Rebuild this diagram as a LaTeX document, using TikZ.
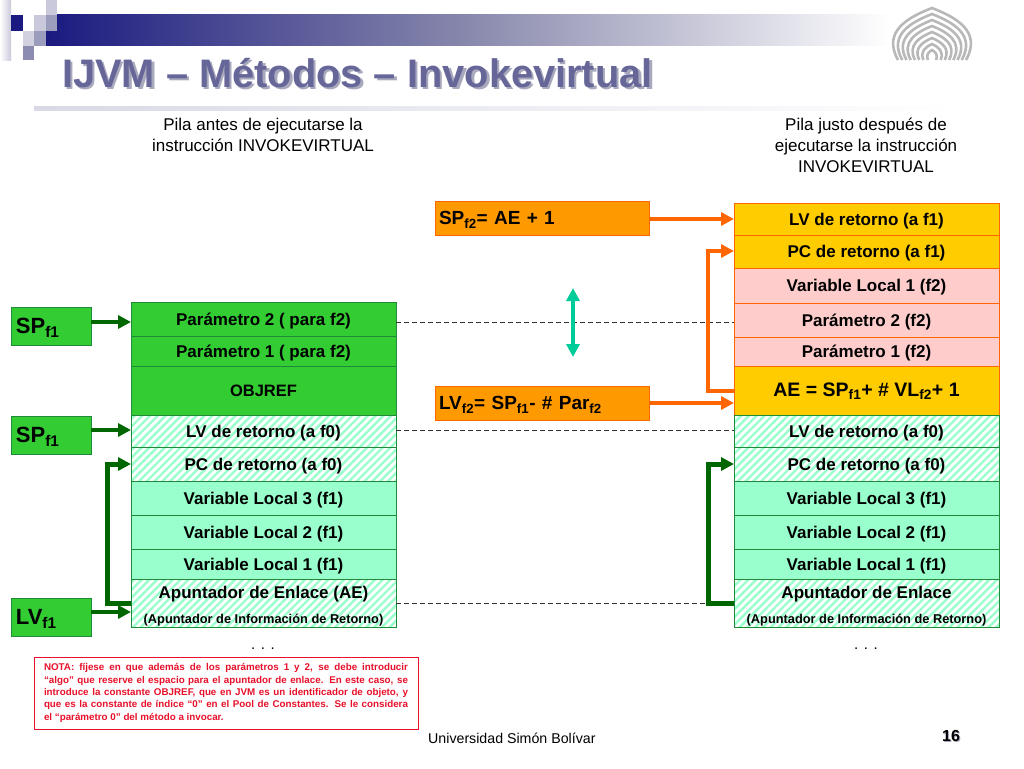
\documentclass[tikz,border=0pt]{standalone}
\usepackage{fontspec}
\setmainfont{Liberation Sans}
\usetikzlibrary{arrows.meta, positioning, patterns.meta}

\definecolor{navyb}{HTML}{1A1A80}
\definecolor{titleb}{HTML}{666699}
\definecolor{titlesh}{HTML}{A9A9BE}
\definecolor{greenb}{HTML}{33CC33}
\definecolor{greena}{HTML}{006600}
\definecolor{greenl}{HTML}{1F8A3A}
\definecolor{mintb}{HTML}{99FFCC}
\definecolor{orangeb}{HTML}{FF9900}
\definecolor{orangea}{HTML}{FF6600}
\definecolor{yellowb}{HTML}{FFCC00}
\definecolor{pinkb}{HTML}{FFCCCC}
\definecolor{tealb}{HTML}{00CC99}
\definecolor{redn}{HTML}{E8102A}

\tikzset{
	cell/.style={draw, minimum width=265pt, minimum height=#1, inner sep=0pt, outer sep=0pt, line width=0.9pt, align=center, text height=12pt, text depth=0pt, font=\fontsize{17}{19}\selectfont\bfseries},
	ggreen/.style={cell=#1, fill=greenb, draw=greenl},
	gmint/.style={cell=#1, fill=mintb, draw=greenl},
	ghatch/.style={cell=#1, draw=greenl, preaction={fill=white}, pattern={Lines[angle=45, distance=5.5pt, line width=2.4pt]}, pattern color=mintb},
	twoline/.style={text height=40pt},
	gyellow/.style={cell=#1, fill=yellowb, draw=orangea},
	gpink/.style={cell=#1, fill=pinkb, draw=orangea},
	regbox/.style={draw=greenl, fill=greenb, line width=0.9pt, minimum width=80pt, minimum height=38pt, inner sep=0pt, outer sep=0pt, text width=70pt, text height=14pt, text depth=0pt, font=\fontsize{22}{24}\selectfont\bfseries},
	calcbox/.style={draw=orangea, fill=orangeb, line width=0.8pt, minimum width=214pt, minimum height=34pt, inner sep=4pt, outer sep=0pt, text width=206pt, text height=13pt, text depth=0pt, font=\fontsize{19}{20}\selectfont\bfseries},
	garrow/.style={draw=greena, line width=4pt, -{Triangle[length=13pt, width=13pt]}},
	oarrow/.style={draw=orangea, line width=4pt, -{Triangle[length=13pt, width=13pt]}},
	level/.style={dash pattern=on 5pt off 3pt, draw=black!80, line width=0.9pt},
	caption/.style={align=center, inner sep=0pt, font=\fontsize{17}{21}\selectfont},
}
\newcommand{\lowtxt}[1]{\textsubscript{#1}}
\newcommand{\shadowed}[2]{\makebox[0pt][l]{\hspace{#1}\raisebox{-#1}{\textcolor{titlesh}{#2}}}#2}

\begin{document}
\begin{tikzpicture}[x=1pt, y=-1pt]
	\useasboundingbox (0,0) rectangle (1024,768);

	% header
	\shade[left color=navyb, right color=white, middle color=black!5!titleb!75!white] (46,15) rectangle (890,46);
	\shade[left color=white, right color=titleb!35!white] (0,0) rectangle (11,60);
	\fill[navyb] (11,15) rectangle (23,31);
	\fill[titleb!35!white] (34,15) rectangle (46,31);
	\fill[titleb!65!white] (46,15) rectangle (57,31);
	\fill[titleb!35!white] (46,0) rectangle (57,15);
	\fill[titleb!65!white] (34,31) rectangle (46,46);
	\fill[titleb!30!white] (23,31) rectangle (34,46);
	\fill[titleb!75!white] (23,46) rectangle (34,60);
	\shade[left color=titleb!25!white, right color=white] (34,106) rectangle (960,110);

	\node[anchor=west, inner sep=0pt, text=titleb, font=\fontsize{39.8}{42}\selectfont\bfseries] (title) at (62,74) {\shadowed{2.5pt}{IJVM – Métodos – Invokevirtual}};

	% logo
	\foreach \w/\h in {40/52, 35/46, 30/40, 25/34, 20/28, 15/22, 10/16, 5/10} {
		\draw[black!28, line width=2.6pt] (932-.85*\w,60) .. controls (932-\w*1.25,60-\h*.55) and (932-\w*.6,60-\h*.82) .. (932,60-\h)
			.. controls (932+\w*.6,60-\h*.82) and (932+\w*1.25,60-\h*.55) .. (932+.85*\w,60);
	}

	% captions
	\node[caption] (capleft) at (263,134.5) {Pila antes de ejecutarse la\\instrucción INVOKEVIRTUAL};
	\node[caption] (capright) at (866,145) {Pila justo después de\\ejecutarse la instrucción\\INVOKEVIRTUAL};

	% left stack
	\node[ggreen=34pt, anchor=north west] (Lp2) at (131,302) {Parámetro 2 ( para f2)};
	\node[ggreen=30pt, below=0pt of Lp2] (Lp1) {Parámetro 1 ( para f2)};
	\node[ggreen=49pt, below=0pt of Lp1] (Lobj) {\fontsize{16.5}{19}\selectfont OBJREF};
	\node[ghatch=32pt, below=0pt of Lobj] (Llv) {LV de retorno (a f0)};
	\node[ghatch=34pt, below=0pt of Llv] (Lpc) {PC de retorno (a f0)};
	\node[gmint=34pt, below=0pt of Lpc] (Lv3) {Variable Local 3 (f1)};
	\node[gmint=34pt, below=0pt of Lv3] (Lv2) {Variable Local 2 (f1)};
	\node[gmint=30pt, below=0pt of Lv2] (Lv1) {Variable Local 1 (f1)};
	\node[ghatch=48pt, twoline, below=0pt of Lv1] (Lae) {Apuntador de Enlace (AE)\\[6pt]{\fontsize{12.8}{14}\selectfont (Apuntador de Información de Retorno)}};
	\node[inner sep=0pt, font=\fontsize{15}{16}\selectfont] (Ldots) at (263,649) {. . .};

	% right stack
	\node[gyellow=32pt, anchor=north west] (Rlv2) at (734,203) {LV de retorno (a f1)};
	\node[gyellow=33pt, below=0pt of Rlv2] (Rpc2) {PC de retorno (a f1)};
	\node[gpink=35pt, below=0pt of Rpc2] (Rv2) {Variable Local 1 (f2)};
	\node[gpink=34pt, below=0pt of Rv2] (Rp2) {Parámetro 2 (f2)};
	\node[gpink=29pt, below=0pt of Rp2] (Rp1) {Parámetro 1 (f2)};
	\node[gyellow=49pt, below=0pt of Rp1, font=\fontsize{19.5}{21}\selectfont\bfseries] (Rae) {AE = SP\lowtxt{f1}+ \# VL\lowtxt{f2}+ 1};
	\node[ghatch=32pt, below=0pt of Rae] (Rlv) {LV de retorno (a f0)};
	\node[ghatch=34pt, below=0pt of Rlv] (Rpc) {PC de retorno (a f0)};
	\node[gmint=34pt, below=0pt of Rpc] (Rv3) {Variable Local 3 (f1)};
	\node[gmint=34pt, below=0pt of Rv3] (Rv2b) {Variable Local 2 (f1)};
	\node[gmint=30pt, below=0pt of Rv2b] (Rv1) {Variable Local 1 (f1)};
	\node[ghatch=48pt, twoline, below=0pt of Rv1] (Rae2) {Apuntador de Enlace\\[6pt]{\fontsize{12.8}{14}\selectfont (Apuntador de Información de Retorno)}};
	\node[inner sep=0pt, font=\fontsize{15}{16}\selectfont] (Rdots) at (866,649) {. . .};

	% registers
	\node[regbox, anchor=north west] (SPa) at (11,307) {SP\lowtxt{f1}};
	\node[regbox, anchor=north west] (SPb) at (11,416) {SP\lowtxt{f1}};
	\node[regbox, anchor=north west] (LVa) at (11,598) {LV\lowtxt{f1}};
	\node[calcbox, anchor=north west] (SPc) at (435,201) {SP\lowtxt{f2}= AE + 1};
	\node[calcbox, anchor=north west] (LVc) at (435,386) {LV\lowtxt{f2}= SP\lowtxt{f1}- \# Par\lowtxt{f2}};

	% level lines
	\coordinate (dlA) at (396,322);
	\coordinate (dlB) at (396,430);
	\coordinate (dlC) at (396,603);
	\draw[level] (dlA) -- (dlA -| Rp2.west);
	\draw[level] (dlB) -- (dlB -| Rlv.west);
	\draw[level] (dlC) -- (dlC -| Rae2.west);

	% pointers
	\draw[garrow] (SPa.east |- dlA) -- (dlA -| Lp2.west);
	\draw[garrow] (SPb.east |- dlB) -- (dlB -| Llv.west);
	\draw[garrow] (LVa.east |- 0,612) -- (Lae.west |- 0,612);
	\draw[garrow, line width=5pt] (Lae.west |- dlC) -| (107,464) -- (Lpc.west |- 0,464);
	\draw[garrow, line width=5pt] (Rae2.west |- dlC) -| (708,464) -- (Rpc.west |- 0,464);
	\draw[oarrow] (SPc.east |- 0,219) -- (Rlv2.west |- 0,219);
	\draw[oarrow] (LVc.east |- 0,403) -- (Rae.west |- 0,403);
	\draw[oarrow] (Rae.west |- 0,391) -| (708,251) -- (Rpc2.west |- 0,251);
	\coordinate (tealup) at (573,288);
	\coordinate (tealdown) at (573,357);
	\draw[draw=tealb, line width=4pt, {Triangle[length=13pt, width=13pt]}-{Triangle[length=13pt, width=13pt]}] (tealup) -- (tealdown);

	% note
	\node[draw=redn, line width=1pt, anchor=north west, minimum width=384pt, minimum height=72pt, inner sep=0pt, outer sep=0pt, fill=white, text=redn, font=\fontsize{9.8}{12.4}\selectfont\bfseries] (nota) at (34,657) {\parbox{364pt}{\hyphenpenalty=10000 NOTA: fíjese en que además de los parámetros 1 y 2, se debe introducir\linebreak “algo” que reserve el espacio para el apuntador de enlace. En este caso, se\linebreak introduce la constante OBJREF, que en JVM es un identificador de objeto, y\linebreak que es la constante de índice “0” en el Pool de Constantes. Se le considera\linebreak el “parámetro 0” del método a invocar.}};

	% footer
	\node[inner sep=0pt, anchor=west, font=\fontsize{14.2}{16}\selectfont] (univ) at (428,738) {Universidad Simón Bolívar};
	\node[inner sep=0pt, font=\fontsize{16}{18}\selectfont\bfseries] (num) at (951,736) {\shadowed{1pt}{16}};
\end{tikzpicture}
\end{document}
